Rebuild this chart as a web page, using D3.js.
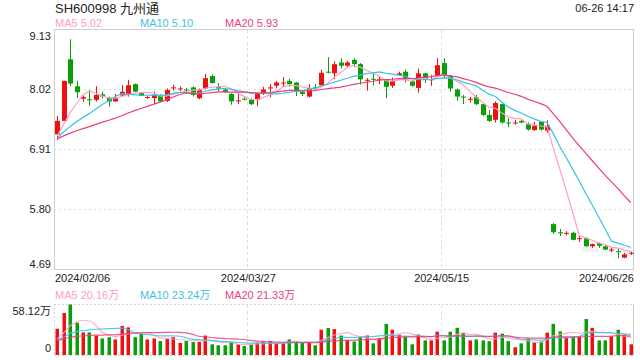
<!DOCTYPE html>
<html>
<head>
<meta charset="utf-8">
<script src="https://cdn.jsdelivr.net/npm/d3@7"></script>
<style>
  body { margin: 0; background: #fff; }
  svg text { font-family: "Liberation Sans", Arial, "Noto Sans CJK SC", sans-serif; }
</style>
</head>
<body>
<svg id="chart" width="640" height="360"></svg>
<script>
// trading days shown (2024)
var dates = [
  "02/06","02/07","02/08","02/19","02/20","02/21","02/22","02/23","02/26","02/27","02/28","02/29",
  "03/01","03/04","03/05","03/06","03/07","03/08","03/11","03/12","03/13","03/14","03/15","03/18",
  "03/19","03/20","03/21","03/22","03/25","03/26","03/27","03/28","03/29",
  "04/01","04/02","04/03","04/08","04/09","04/10","04/11","04/12","04/15","04/16","04/17","04/18",
  "04/19","04/22","04/23","04/24","04/25","04/26","04/29","04/30",
  "05/06","05/07","05/08","05/09","05/10","05/13","05/14","05/15","05/16","05/17","05/20","05/21",
  "05/22","05/23","05/24","05/27","05/28","05/29","05/30","05/31",
  "06/03","06/04","06/05","06/06","06/07","06/11","06/12","06/13","06/14","06/17","06/18","06/19",
  "06/20","06/21","06/24","06/25","06/26"
];

var open = [
  7.18,7.43,8.57,8.07,7.84,7.83,7.82,7.92,7.86,7.79,7.90,7.91,8.11,7.95,7.86,7.85,7.90,7.80,8.04,8.02,
  8.01,8.05,7.85,8.03,8.26,8.06,8.01,7.93,7.80,7.84,7.82,7.82,7.93,8.03,8.08,8.13,8.17,8.14,7.97,7.88,
  8.05,8.09,8.34,8.31,8.51,8.45,8.56,8.48,8.18,8.21,8.19,8.19,8.08,8.28,8.34,8.16,8.04,8.31,8.19,8.26,
  8.50,8.26,8.01,7.88,7.82,7.87,7.74,7.54,7.45,7.74,7.40,7.39,7.43,7.37,7.26,7.41,7.25,5.52,5.37,5.34,
  5.36,5.25,5.26,5.11,5.17,5.11,5.04,5.02,4.90,4.98
];
var high = [
  7.52,8.17,8.94,8.17,7.90,8.00,8.07,7.97,7.88,7.93,8.09,8.19,8.12,7.97,7.89,7.97,7.92,8.03,8.10,8.07,
  8.04,8.07,8.03,8.30,8.29,8.13,8.03,7.94,7.95,7.87,7.85,7.96,8.06,8.11,8.17,8.24,8.21,8.15,8.00,8.11,
  8.11,8.38,8.61,8.53,8.59,8.54,8.59,8.50,8.22,8.31,8.25,8.20,8.23,8.34,8.38,8.18,8.40,8.32,8.28,8.59,
  8.59,8.28,8.03,7.91,7.87,7.91,7.75,7.63,7.79,7.75,7.48,7.45,7.45,7.40,7.41,7.42,7.44,5.54,5.43,5.39,
  5.38,5.30,5.28,5.16,5.18,5.14,5.09,5.07,4.99,5.01
];
var low = [
  7.08,7.43,8.07,7.85,7.78,7.71,7.79,7.84,7.69,7.78,7.88,7.88,7.96,7.89,7.84,7.74,7.79,7.78,7.99,7.98,
  7.93,7.88,7.83,8.01,8.12,7.98,7.95,7.73,7.74,7.81,7.72,7.70,7.91,7.87,8.03,8.06,8.06,7.89,7.89,7.86,
  8.00,8.07,8.31,8.20,8.40,8.43,8.43,8.10,7.99,8.09,8.11,7.85,8.04,8.26,8.14,8.06,7.95,8.13,8.08,8.25,
  8.22,7.97,7.80,7.74,7.77,7.72,7.52,7.41,7.40,7.38,7.31,7.36,7.39,7.25,7.25,7.25,7.21,5.34,5.30,5.31,
  5.22,5.19,5.10,5.08,5.08,5.04,5.00,4.89,4.89,4.95
];
var close = [
  7.43,8.17,8.12,7.96,7.87,7.82,7.91,7.88,7.79,7.85,7.97,8.09,7.97,7.89,7.87,7.91,7.79,8.00,8.05,8.03,
  8.00,7.91,8.01,8.22,8.13,8.03,7.96,7.79,7.81,7.83,7.74,7.94,8.01,8.05,8.14,8.14,8.11,7.97,7.93,8.04,
  8.04,8.32,8.33,8.48,8.45,8.51,8.48,8.20,8.19,8.20,8.20,8.06,8.17,8.31,8.20,8.08,8.31,8.19,8.20,8.46,
  8.26,8.03,7.88,7.87,7.84,7.74,7.54,7.43,7.76,7.40,7.39,7.40,7.40,7.27,7.34,7.27,7.34,5.37,5.35,5.36,
  5.23,5.26,5.11,5.15,5.12,5.05,5.05,5.01,4.96,4.99
];
// volume, 万手
var volume = [
  30.2,48.4,58.12,37.2,26.0,26.0,22.4,19.0,20.5,17.9,33.5,31.7,20.5,24.6,17.9,19.0,16.0,18.6,20.5,13.8,
  16.0,14.9,14.9,22.4,12.3,11.2,11.2,14.9,12.3,10.4,12.3,14.2,14.9,16.0,13.4,13.4,17.9,16.0,14.2,14.2,
  11.2,29.1,31.0,29.8,22.4,16.8,15.6,20.9,22.4,13.4,19.7,35.8,29.1,23.5,20.9,12.3,23.5,16.8,16.8,26.8,
  16.8,26.8,31.3,25.4,16.8,17.9,16.8,16.0,25.7,24.6,16.0,8.9,13.4,19.0,14.9,15.6,25.7,35.8,27.2,20.5,
  20.9,21.6,41.4,31.3,16.8,16.8,21.6,29.1,23.5,12.3
];

var priceTicks = [9.13, 8.02, 6.91, 5.80, 4.69];
var dateTicks = ["02/06", "03/27", "05/15", "06/26"];
var maPeriods = [5, 10, 20];
var maLegend = ["5.02", "5.10", "5.93"];
var volMaLegend = ["20.16万", "23.24万", "21.33万"];
var volMax = 58.12;
var maStart = 7.08, volMaStart = 16;   // where the average lines begin on the left

var up = "#ee1111", down = "#0a9f0a";
var maColors = ["#ffa0c0", "#39c3e3", "#ea3f78"];

var svg = d3.select("#chart");
var left = 54, right = 634;

var x = d3.scaleBand().domain(dates).range([left, right]);
var cx = function(d) { return x(d) + x.bandwidth() / 2; };
var y = d3.scaleLinear().domain([4.69, 9.13]).range([269, 29]);
var yv = d3.scaleLinear().domain([0, volMax]).range([355, 304.5]);

function movingAvg(arr, n, seed) {
  return arr.map(function(d, i) {
    var s = 0;
    for (var k = i - n + 1; k <= i; k++) s += k < 0 ? seed : arr[k];
    return s / n;
  });
}

var days = dates.map(function(d, i) {
  return {date: d, o: open[i], h: high[i], l: low[i], c: close[i], v: volume[i]};
});

// title
svg.append("text").attr("x", 55).attr("y", 13).attr("font-size", 13).attr("fill", "#222")
  .text("SH600998 九州通");
svg.append("text").attr("x", 634).attr("y", 12).attr("font-size", 11).attr("fill", "#222")
  .attr("text-anchor", "end").text("06-26 14:17");

// legends
var legX = [55, 140, 225];
maPeriods.forEach(function(p, i) {
  svg.append("text").attr("x", legX[i]).attr("y", 27).attr("font-size", 11)
    .attr("fill", maColors[i]).text("MA" + p + " " + maLegend[i]);
  svg.append("text").attr("x", legX[i]).attr("y", 299).attr("font-size", 11)
    .attr("fill", maColors[i]).text("MA" + p + " " + volMaLegend[i]);
});

// price panel frame + grid
var grid = svg.append("g");
grid.append("rect").attr("x", left + 0.5).attr("y", 29.5).attr("width", right - left - 1).attr("height", 240)
  .attr("fill", "none").attr("stroke", "#cfcfcf");
grid.selectAll(".hg").data(priceTicks.slice(1, -1)).enter().append("line")
  .attr("x1", left).attr("x2", right)
  .attr("y1", function(d) { return Math.round(y(d)) + 0.5; })
  .attr("y2", function(d) { return Math.round(y(d)) + 0.5; })
  .attr("stroke", "#dcdcdc").attr("stroke-dasharray", "2,3");
grid.selectAll(".vg").data(dateTicks.slice(1, -1)).enter().append("line")
  .attr("x1", function(d) { return Math.round(x(d)) + 0.5; })
  .attr("x2", function(d) { return Math.round(x(d)) + 0.5; })
  .attr("y1", 30).attr("y2", 269)
  .attr("stroke", "#dcdcdc").attr("stroke-dasharray", "3,3");

// volume frame + grid (dotted)
[304.5, 355.5].forEach(function(v) {
  grid.append("line").attr("x1", left).attr("x2", right).attr("y1", v).attr("y2", v)
    .attr("stroke", "#d5d5d5").attr("stroke-dasharray", "2,2");
});
grid.append("line").attr("x1", left + 0.5).attr("x2", left + 0.5).attr("y1", 304).attr("y2", 356)
  .attr("stroke", "#d5d5d5").attr("stroke-dasharray", "2,2");
grid.append("line").attr("x1", right - 0.5).attr("x2", right - 0.5).attr("y1", 304).attr("y2", 356)
  .attr("stroke", "#cfcfcf");
grid.selectAll(".vg2").data(dateTicks.slice(1, -1)).enter().append("line")
  .attr("x1", function(d) { return Math.round(x(d)) + 0.5; })
  .attr("x2", function(d) { return Math.round(x(d)) + 0.5; })
  .attr("y1", 305).attr("y2", 355)
  .attr("stroke", "#dcdcdc").attr("stroke-dasharray", "3,3");

// watermark
svg.append("text").attr("x", 581).attr("y", 252).attr("font-size", 9.5).attr("fill", "#e3e3e3")
  .text("sina.com.cn");

// price axis
var yAxis = svg.append("g").attr("transform", "translate(" + (left - 3) + ",0)")
  .call(d3.axisLeft(y).tickValues(priceTicks).tickSize(0).tickPadding(0).tickFormat(d3.format(".2f")));
yAxis.select(".domain").remove();
yAxis.selectAll("text").attr("font-size", 11).attr("fill", "#222")
  .attr("dy", function(d, i) { return i === 0 ? "0.95em" : (i === priceTicks.length - 1 ? "-0.1em" : "0.32em"); });

// date labels
svg.selectAll(".dl").data(dateTicks).enter().append("text")
  .attr("x", function(d, i) { return i === 0 ? left + 1 : (i === dateTicks.length - 1 ? right : x(d) + 1); })
  .attr("y", 282).attr("font-size", 11).attr("fill", "#222")
  .attr("text-anchor", function(d, i) { return i === 0 ? "start" : (i === dateTicks.length - 1 ? "end" : "middle"); })
  .text(function(d) { return "2024/" + d; });

// volume axis labels
var vAxis = svg.append("g").attr("transform", "translate(" + (left - 3) + ",0)")
  .call(d3.axisLeft(yv).tickValues([volMax, 0]).tickSize(0).tickPadding(0)
    .tickFormat(function(d) { return d === 0 ? "0" : d + "万"; }));
vAxis.select(".domain").remove();
vAxis.selectAll("text").attr("font-size", 11).attr("fill", "#222")
  .attr("dy", function(d) { return d === 0 ? "-0.3em" : "0.95em"; });

// candles
var candle = svg.append("g").selectAll("g").data(days).enter().append("g");
candle.append("line")
  .attr("x1", function(d) { return Math.round(cx(d.date)) + 0.5; })
  .attr("x2", function(d) { return Math.round(cx(d.date)) + 0.5; })
  .attr("y1", function(d) { return y(d.h); })
  .attr("y2", function(d) { return y(d.l); })
  .attr("stroke", function(d) { return d.c >= d.o ? up : down; });
candle.append("rect")
  .attr("x", function(d) { return Math.round(cx(d.date)) - 2; })
  .attr("width", 5)
  .attr("y", function(d) { return y(Math.max(d.o, d.c)); })
  .attr("height", function(d) { return Math.max(1, Math.abs(y(d.o) - y(d.c))); })
  .attr("fill", function(d) { return d.c >= d.o ? up : down; });

// price moving averages
var priceLine = d3.line().x(function(d, i) { return cx(dates[i]); }).y(function(d) { return y(d); });
maPeriods.forEach(function(p, i) {
  svg.append("path").datum(movingAvg(close, p, maStart))
    .attr("fill", "none").attr("stroke", maColors[i]).attr("stroke-width", 1.2)
    .attr("d", priceLine);
});

// volume bars
svg.append("g").selectAll("rect").data(days).enter().append("rect")
  .attr("x", function(d) { return Math.round(cx(d.date)) - 1.5; })
  .attr("width", 3.5)
  .attr("y", function(d) { return yv(d.v); })
  .attr("height", function(d) { return yv(0) - yv(d.v); })
  .attr("fill", function(d) { return d.c >= d.o ? up : down; });

// volume moving averages
var volLine = d3.line().curve(d3.curveMonotoneX)
  .x(function(d, i) { return cx(dates[i]); }).y(function(d) { return yv(d); });
maPeriods.forEach(function(p, i) {
  svg.append("path").datum(movingAvg(volume, p, volMaStart))
    .attr("fill", "none").attr("stroke", maColors[i]).attr("stroke-width", 1.2).attr("opacity", 0.85)
    .attr("d", volLine);
});
</script>
</body>
</html>
